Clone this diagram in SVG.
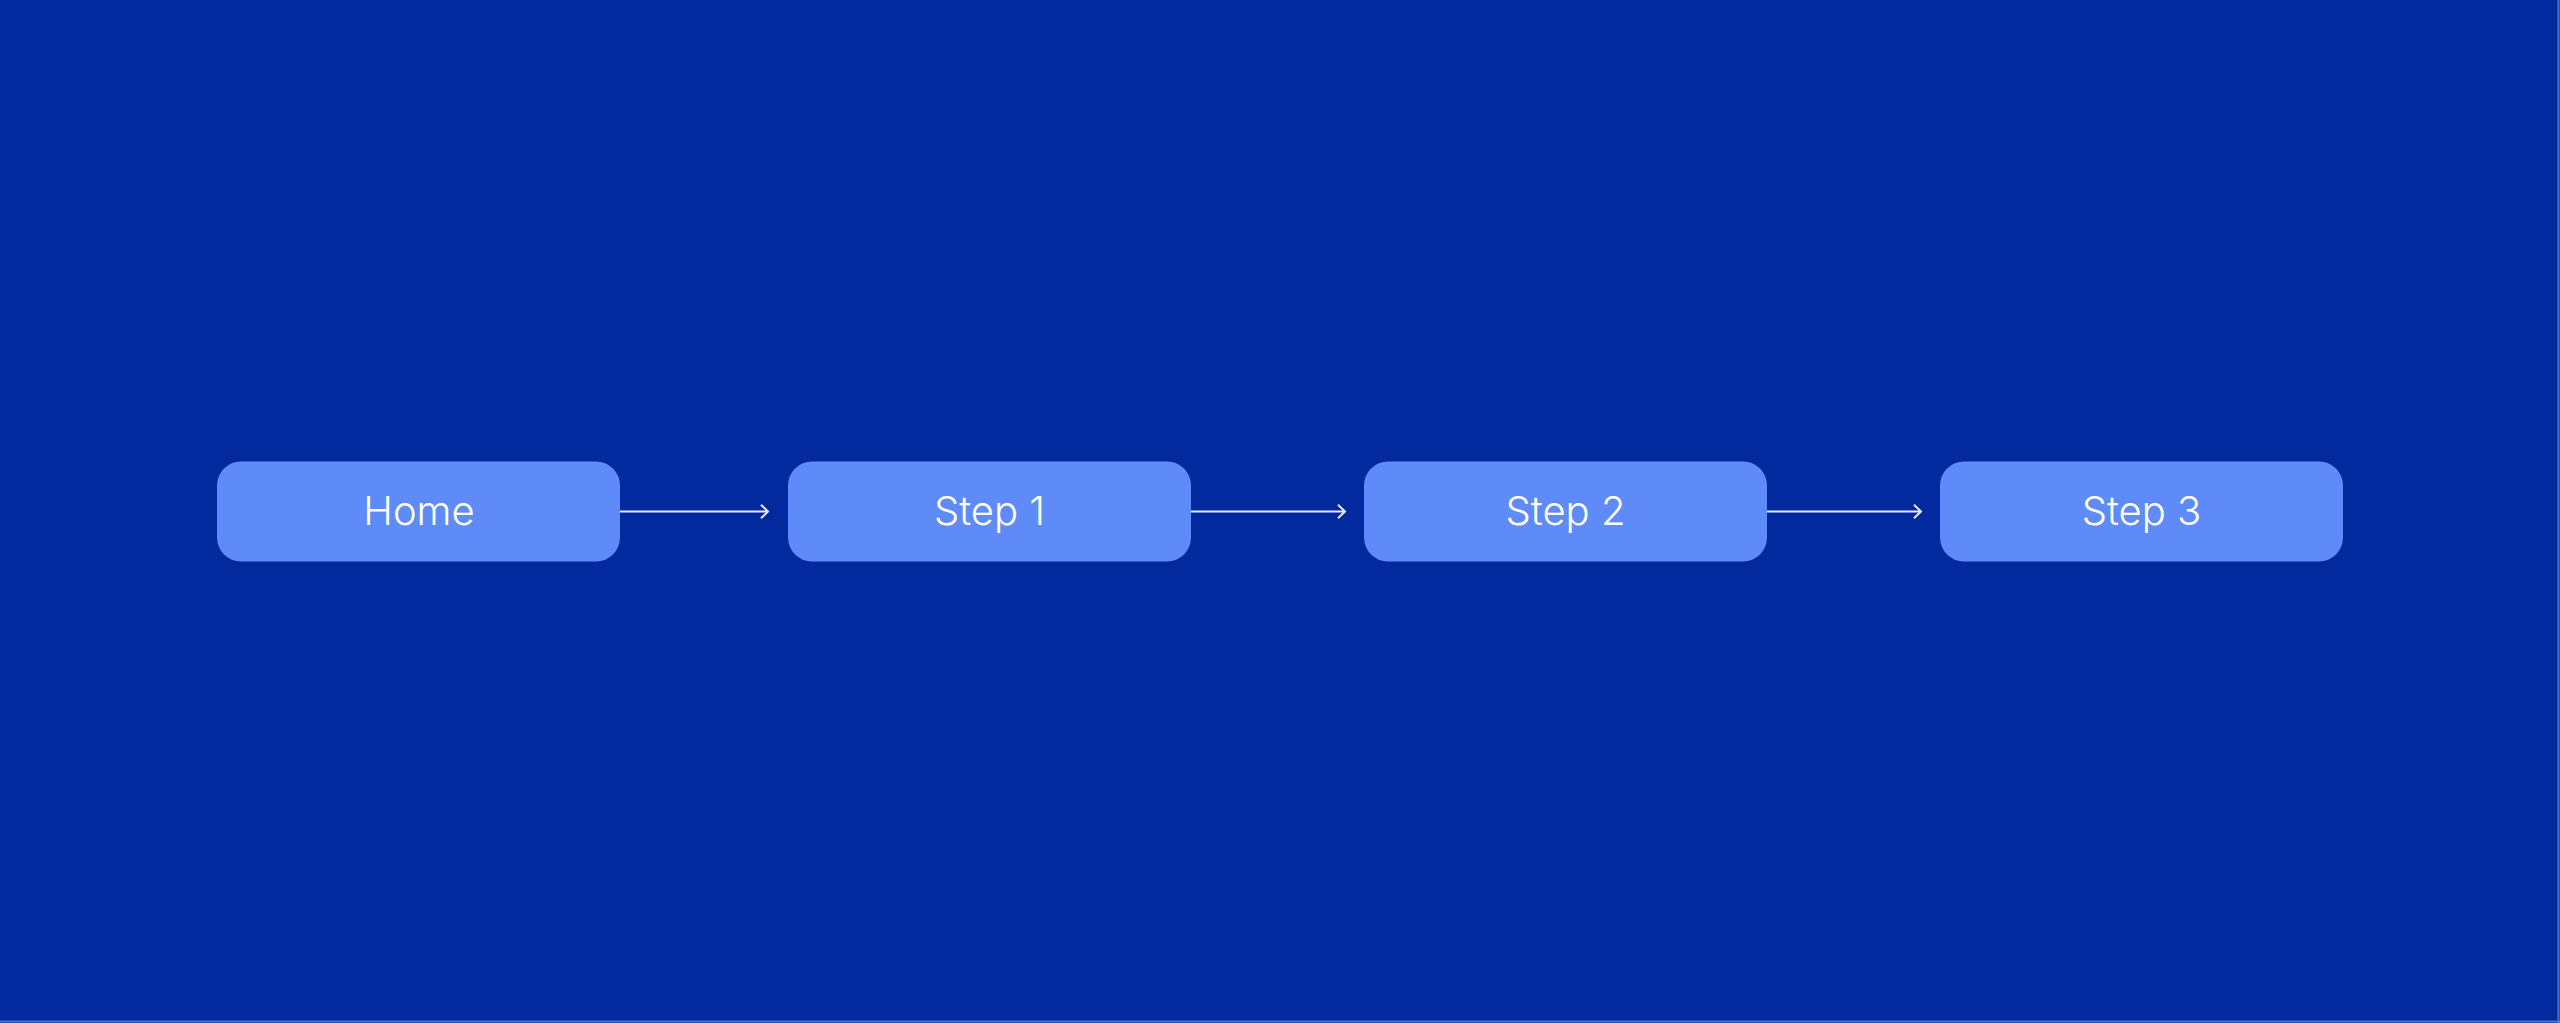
<svg xmlns="http://www.w3.org/2000/svg" width="2560" height="1023" viewBox="0 0 2560 1023">
<style>
.node rect{fill:#5F8BF8}
.node text{fill:#FFFFFF;font-family:Inter,"Liberation Sans",sans-serif;font-size:40px;font-weight:300;text-anchor:middle}
.edge{stroke:#E8ECF8;stroke-width:2;fill:none}
</style>
<defs>
<marker id="arr" markerWidth="12" markerHeight="16" refX="9" refY="8" orient="auto" markerUnits="userSpaceOnUse">
<path d="M2,1.2 L9,8 L2,14.8" fill="none" stroke="#E8ECF8" stroke-width="2"/>
</marker>
</defs>
<rect x="0" y="0" width="2560" height="1023" fill="#022A9E"/>
<line x1="2558.5" y1="0" x2="2558.5" y2="1023" stroke="#4F72D6" stroke-width="2"/>
<line x1="0" y1="1021.5" x2="2560" y2="1021.5" stroke="#4F72D6" stroke-width="2"/>
<g id="connectors">
<line class="edge" x1="620" y1="511.5" x2="768" y2="511.5" marker-end="url(#arr)"/>
<line class="edge" x1="1191" y1="511.5" x2="1345" y2="511.5" marker-end="url(#arr)"/>
<line class="edge" x1="1767" y1="511.5" x2="1921" y2="511.5" marker-end="url(#arr)"/>
</g>
<g id="home" class="node"><rect x="217" y="461.5" width="403" height="100" rx="24"/><text x="419" y="525">Home</text></g>
<g id="step1" class="node"><rect x="788" y="461.5" width="403" height="100" rx="24"/><text x="989.5" y="525">Step 1</text></g>
<g id="step2" class="node"><rect x="1364" y="461.5" width="403" height="100" rx="24"/><text x="1565.5" y="525">Step 2</text></g>
<g id="step3" class="node"><rect x="1940" y="461.5" width="403" height="100" rx="24"/><text x="2141.5" y="525">Step 3</text></g>
</svg>
